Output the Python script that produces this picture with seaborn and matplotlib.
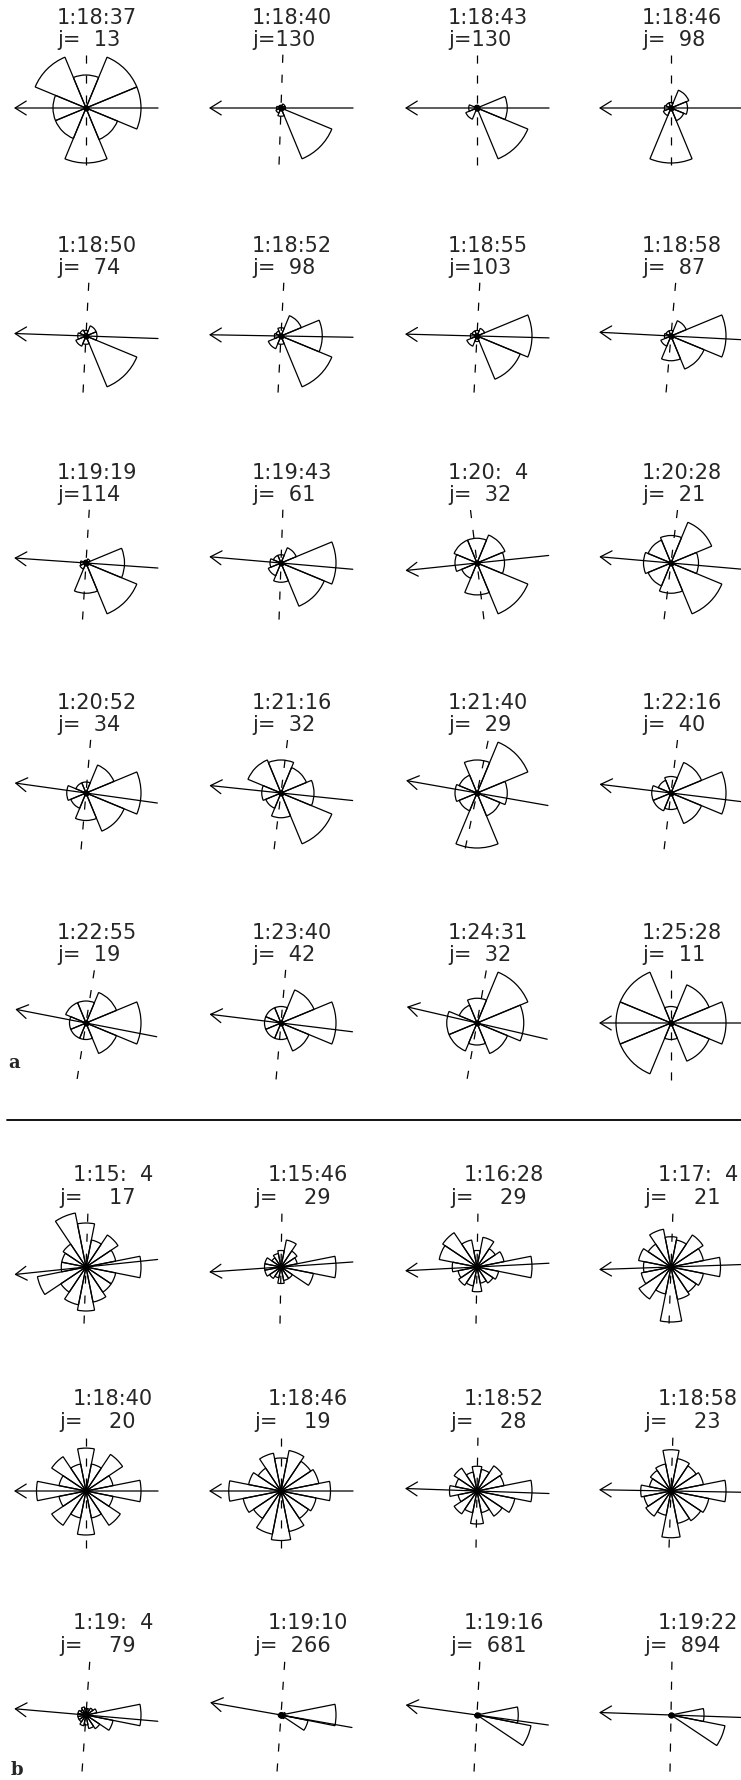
import numpy as np
import matplotlib
matplotlib.use("Agg")
import matplotlib.pyplot as plt
import seaborn as sns

sns.set_style("white")
plt.rcParams['font.family'] = ['DejaVu Sans']

W, H, DPI = 741, 1780, 100
FS = "\u2007"  # figure space

# ---------------- panel a (8 sectors, 45 deg) ----------------
times_a = ["1:18:37", "1:18:40", "1:18:43", "1:18:46",
           "1:18:50", "1:18:52", "1:18:55", "1:18:58",
           "1:19:19", "1:19:43", "1:20:" + FS + "4", "1:20:28",
           "1:20:52", "1:21:16", "1:21:40", "1:22:16",
           "1:22:55", "1:23:40", "1:24:31", "1:25:28"]
counts_a = [13, 130, 130, 98, 74, 98, 103, 87, 114, 61, 32, 21,
            34, 32, 29, 40, 19, 42, 32, 11]
# sector radii, bins centred at 0,45,...,315 deg (counter-clockwise from east)
rose_a = [
    [1.0, 1.0, 0.6, 1.0, 0.6, 0.6, 1.0, 0.62],
    [0.08, 0.08, 0.05, 0.05, 0.08, 0.1, 0.15, 1.0],
    [0.55, 0.05, 0.05, 0.05, 0.15, 0.22, 0.05, 1.0],
    [0.3, 0.35, 0.1, 0.1, 0.12, 0.15, 1.0, 0.25],
    [0.2, 0.2, 0.1, 0.12, 0.15, 0.2, 0.15, 1.0],
    [0.75, 0.4, 0.15, 0.1, 0.12, 0.25, 0.15, 1.0],
    [1.0, 0.15, 0.1, 0.1, 0.12, 0.2, 0.1, 0.85],
    [1.0, 0.3, 0.1, 0.1, 0.12, 0.2, 0.45, 0.65],
    [0.7, 0.08, 0.05, 0.05, 0.1, 0.12, 0.55, 1.0],
    [1.0, 0.3, 0.15, 0.15, 0.2, 0.25, 0.35, 0.85],
    [0.5, 0.55, 0.45, 0.45, 0.4, 0.3, 0.58, 1.0],
    [0.5, 0.8, 0.5, 0.45, 0.5, 0.45, 0.55, 1.0],
    [1.0, 0.55, 0.2, 0.2, 0.35, 0.3, 0.5, 0.75],
    [0.6, 0.5, 0.6, 0.65, 0.35, 0.3, 0.45, 1.0],
    [0.55, 1.0, 0.6, 0.35, 0.4, 0.35, 1.0, 0.45],
    [1.0, 0.6, 0.3, 0.25, 0.35, 0.35, 0.3, 0.6],
    [1.0, 0.6, 0.4, 0.4, 0.3, 0.3, 0.3, 0.6],
    [1.0, 0.65, 0.3, 0.3, 0.3, 0.3, 0.3, 0.55],
    [0.85, 1.0, 0.45, 0.35, 0.55, 0.55, 0.4, 0.6],
    [1.0, 0.75, 0.3, 1.0, 1.0, 1.0, 0.3, 0.75],
]
# tilt of the arrow line (deg, + = left end higher) and of the dashed line (deg, + = top leans right)
arrow_tilt_a = [0, 0, 0, 0, 2, 1, 1.5, 3, 4, 5, -6, 5, 8, 6, 10, 7, 11, 7, 13, 0]
dash_tilt_a = [0, 2, 0, 0, 3, 3, 3, 5, 3.5, 2, -7, 7, 5, 7, 12, 7, 9, 5, 10, 0]

# ---------------- panel b (16 sectors, 22.5 deg) ----------------
times_b = ["1:15:" + FS + "4", "1:15:46", "1:16:28", "1:17:" + FS + "4",
           "1:18:40", "1:18:46", "1:18:52", "1:18:58",
           "1:19:" + FS + "4", "1:19:10", "1:19:16", "1:19:22"]
counts_b = [17, 29, 29, 21, 20, 19, 28, 23, 79, 266, 681, 894]
rose_b = [
    [1.0, 0.55, 0.7, 0.5, 0.8, 1.0, 0.5, 0.45, 0.45, 0.9, 0.55, 0.7, 0.8, 0.65, 0.55, 0.55],
    [1.0, 0.3, 0.35, 0.5, 0.3, 0.25, 0.2, 0.3, 0.3, 0.3, 0.25, 0.2, 0.3, 0.25, 0.25, 0.6],
    [1.0, 0.5, 0.4, 0.55, 0.3, 0.5, 0.75, 0.7, 0.45, 0.35, 0.4, 0.35, 0.45, 0.3, 0.35, 0.4],
    [0.9, 0.6, 0.7, 0.5, 0.55, 0.7, 0.5, 0.6, 0.5, 0.55, 0.7, 0.5, 1.0, 0.6, 0.55, 0.6],
    [1.0, 0.5, 0.8, 0.5, 0.78, 0.5, 0.75, 0.5, 0.9, 0.5, 0.75, 0.5, 0.8, 0.5, 0.75, 0.5],
    [0.9, 0.7, 0.65, 0.75, 0.6, 0.7, 0.5, 0.6, 0.95, 0.7, 0.6, 0.8, 0.9, 0.75, 0.6, 0.65],
    [1.0, 0.5, 0.55, 0.4, 0.45, 0.35, 0.5, 0.4, 0.5, 0.35, 0.5, 0.4, 0.6, 0.4, 0.55, 0.7],
    [1.0, 0.6, 0.55, 0.6, 0.75, 0.5, 0.45, 0.4, 0.55, 0.5, 0.55, 0.45, 0.85, 0.6, 0.65, 0.7],
    [1.0, 0.2, 0.15, 0.12, 0.12, 0.15, 0.12, 0.15, 0.15, 0.15, 0.15, 0.2, 0.18, 0.25, 0.3, 0.5],
    [1.0, 0.08, 0.05, 0.04, 0.04, 0.04, 0.04, 0.04, 0.05, 0.05, 0.05, 0.05, 0.05, 0.06, 0.08, 0.5],
    [0.75, 0.06, 0.04, 0.03, 0.03, 0.03, 0.03, 0.03, 0.04, 0.04, 0.04, 0.04, 0.04, 0.05, 0.06, 1.0],
    [0.6, 0.05, 0.04, 0.03, 0.03, 0.03, 0.03, 0.03, 0.04, 0.04, 0.04, 0.04, 0.04, 0.05, 0.05, 1.0],
]
arrow_tilt_b = [-6, -4, -3, -2, 0, 0, 2, 1, 5, 10, 8, 2]
dash_tilt_b = [2, 1, 1, 2, 0, 0, 1, 2, 4, 4, 3, 1]

# ---------------- layout (pixels) ----------------
col_x = [86, 281, 477, 671]
row_y_a = [108, 336, 563, 793, 1023]
row_y_b = [1267, 1491, 1715]
R = 55.0       # pixel radius of r = 1
RMAX = 1.4

fig = plt.figure(figsize=(W / DPI, H / DPI), dpi=DPI)


def rose(cx, cy, radii, a_tilt, d_tilt):
    size = 2 * RMAX * R
    ax = fig.add_axes([(cx - RMAX * R) / W, 1 - (cy + RMAX * R) / H, size / W, size / H],
                      projection='polar')
    n = len(radii)
    theta = np.deg2rad(np.arange(n) * 360.0 / n)
    ax.bar(theta, radii, width=2 * np.pi / n, bottom=0, align='center',
           fill=False, edgecolor='black', linewidth=0.9)
    ax.set_ylim(0, RMAX)
    ax.set_axis_off()
    a = np.deg2rad(a_tilt)
    L = 1.31
    ax.annotate("", xy=(np.pi - a, L), xytext=(-a, L),
                arrowprops=dict(arrowstyle='->,head_length=0.4,head_width=0.25',
                                lw=0.9, color='black', mutation_scale=20,
                                shrinkA=0, shrinkB=0))
    d = np.deg2rad(d_tilt)
    # dashed reference line: each half drawn from its outer end towards the centre
    ax.plot([np.pi / 2 - d, np.pi / 2 - d], [0.97, 0.0],
            color='black', lw=0.9, linestyle=(0, (6.5, 9.5)))
    ax.plot([3 * np.pi / 2 - d, 3 * np.pi / 2 - d], [1.03, 0.0],
            color='black', lw=0.9, linestyle=(0, (6.5, 9.5)))
    ax.plot([0], [0], 'o', color='black', ms=3.5)
    return ax


def label(x, y, s, **kw):
    fig.text(x / W, 1 - y / H, s, ha='left', va='center', fontsize=15, **kw)


for i, (t, c, rr, at, dt) in enumerate(zip(times_a, counts_a, rose_a, arrow_tilt_a, dash_tilt_a)):
    cx, cy = col_x[i % 4], row_y_a[i // 4]
    rose(cx, cy, rr, at, dt)
    label(cx - 29, cy - 90, t)
    label(cx - 29, cy - 68, "j=" + f"{c:3d}".replace(" ", FS))

for i, (t, c, rr, at, dt) in enumerate(zip(times_b, counts_b, rose_b, arrow_tilt_b, dash_tilt_b)):
    cx, cy = col_x[i % 4], row_y_b[i // 4]
    rose(cx, cy, rr, at, dt)
    label(cx - 13, cy - 92, t)
    label(cx - 27, cy - 69, "j=" + f"{c:4d}".replace(" ", FS))

# separator between panels and panel letters
fig.add_artist(plt.Line2D([7 / W, 1.0], [1 - 1120 / H, 1 - 1120 / H], color='black', lw=1.3))
fig.text(14 / W, 1 - 1063 / H, "a", fontsize=13, fontweight='bold', family='DejaVu Serif',
         ha='center', va='center')
fig.text(17 / W, 1 - 1770 / H, "b", fontsize=13, fontweight='bold', family='DejaVu Serif',
         ha='center', va='center')

fig.savefig("out.png", dpi=DPI)
